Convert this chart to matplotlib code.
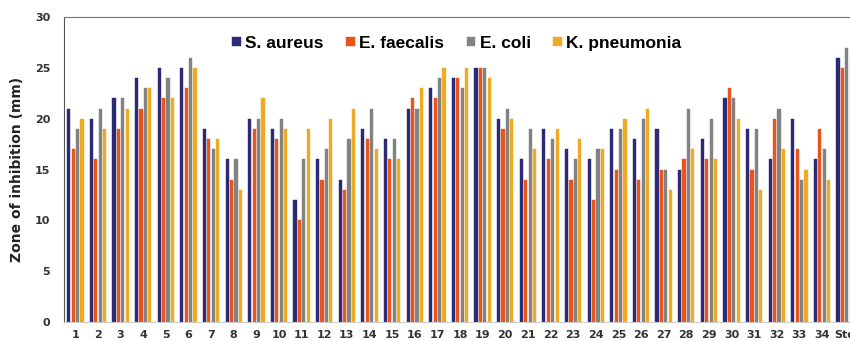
import numpy as np
import matplotlib
matplotlib.use("Agg")
import matplotlib.pyplot as plt

categories = [str(i) for i in range(1, 35)] + ["Std"]

s_aureus = [21, 20, 22, 24, 25, 25, 19, 16, 20, 19, 12, 16, 14, 19, 18, 21, 23,
            24, 25, 20, 16, 19, 17, 16, 19, 18, 19, 15, 18, 22, 19, 16, 20, 16, 26]
e_faecalis = [17, 16, 19, 21, 22, 23, 18, 14, 19, 18, 10, 14, 13, 18, 16, 22, 22,
              24, 25, 19, 14, 16, 14, 12, 15, 14, 15, 16, 16, 23, 15, 20, 17, 19, 25]
e_coli = [19, 21, 22, 23, 24, 26, 17, 16, 20, 20, 16, 17, 18, 21, 18, 21, 24,
          23, 25, 21, 19, 18, 16, 17, 19, 20, 15, 21, 20, 22, 19, 21, 14, 17, 27]
k_pneumonia = [20, 19, 21, 23, 22, 25, 18, 13, 22, 19, 19, 20, 21, 17, 16, 23, 25,
               25, 24, 20, 17, 19, 18, 17, 20, 21, 13, 17, 16, 20, 13, 17, 15, 14, 26]

series = [
    ("S. aureus", s_aureus, "#2c2a74"),
    ("E. faecalis", e_faecalis, "#e8541c"),
    ("E. coli", e_coli, "#828282"),
    ("K. pneumonia", k_pneumonia, "#eeaa22"),
]

fig = plt.figure(figsize=(8.5, 3.41), dpi=100)
ax = fig.add_axes([64 / 850, 19 / 341, 792 / 850, 305 / 341])

x = np.arange(len(categories))
pitch = 0.195
width = 0.14
for i, (name, vals, color) in enumerate(series):
    ax.bar(x + (i - 1.5) * pitch, vals, width, color=color, label=name,
           edgecolor=color, linewidth=0.3)

ax.set_xlim(-0.5, len(categories) - 0.5)
ax.set_ylim(0, 30)
ax.set_yticks(range(0, 31, 5))
ax.set_xticks(x)
ax.set_xticklabels(categories)
ax.tick_params(axis="both", length=0, labelsize=8, colors="#333333")
ax.tick_params(axis="y", pad=10)
ax.tick_params(axis="x", pad=6)
for lbl in ax.get_xticklabels() + ax.get_yticklabels():
    lbl.set_fontweight("bold")

ax.set_ylabel("Zone of inhibition (mm)", fontsize=10, fontweight="bold",
              color="#222222", labelpad=8)

ax.spines["left"].set_color("#555555")
ax.spines["top"].set_color("#777777")
ax.spines["bottom"].set_color("#cccccc")
ax.spines["right"].set_visible(False)

leg = ax.legend(loc="upper center", bbox_to_anchor=(0.496, 0.99), ncol=4,
                frameon=False, handlelength=0.5, handleheight=0.5,
                handletextpad=0.25, columnspacing=1.3,
                prop={"family": "Liberation Sans", "weight": "bold", "size": 12.5})

fig.savefig("out.png", dpi=100)
